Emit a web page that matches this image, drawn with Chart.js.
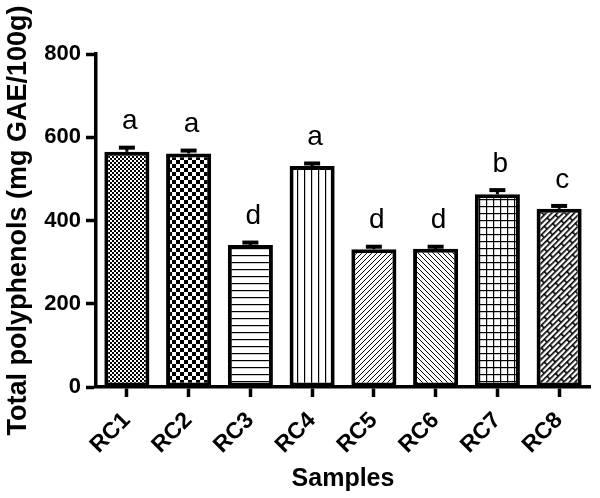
<!DOCTYPE html>
<html>
<head>
<meta charset="utf-8">
<script src="https://cdn.jsdelivr.net/npm/chart.js@4"></script>
<style>
  html, body { margin: 0; padding: 0; background: #fff; }
  canvas { display: block; }
</style>
</head>
<body>
<canvas id="barChart" width="600" height="498"></canvas>
<script>
// data
var categories = ["RC1", "RC2", "RC3", "RC4", "RC5", "RC6", "RC7", "RC8"];
var values = [565, 561, 341, 531, 331, 332, 463, 428];
var errors = [10, 7, 6, 6, 6, 5, 10, 7];
var letters = ["a", "a", "d", "a", "d", "d", "b", "c"];
var yTicks = [0, 200, 400, 600, 800];

var FONT = "'Liberation Sans', Arial, sans-serif";

// hatch patterns, one per bar
function makePattern(w, h, draw, angle) {
  var c = document.createElement("canvas");
  c.width = w;
  c.height = h;
  var g = c.getContext("2d");
  g.fillStyle = "#fff";
  g.fillRect(0, 0, w, h);
  g.fillStyle = "#000";
  g.strokeStyle = "#000";
  draw(g, w, h);
  var p = g.createPattern(c, "repeat");
  if (angle) p.setTransform(new DOMMatrix().rotate(angle));
  return p;
}

var patterns = [
  makePattern(4, 4, function (g) { g.fillRect(0, 0, 2, 2); g.fillRect(2, 2, 2, 2); }),
  makePattern(8, 8, function (g) { g.fillRect(0, 0, 4, 4); g.fillRect(4, 4, 4, 4); }),
  makePattern(7, 7, function (g) { g.fillRect(0, 3, 7, 1.2); }),
  makePattern(7, 7, function (g) { g.fillRect(3, 0, 1.2, 7); }),
  makePattern(5, 5, function (g, s) {
    g.lineWidth = 1;
    g.beginPath();
    g.moveTo(0, s); g.lineTo(s, 0);
    g.moveTo(-1, 1); g.lineTo(1, -1);
    g.moveTo(s - 1, s + 1); g.lineTo(s + 1, s - 1);
    g.stroke();
  }),
  makePattern(5, 5, function (g, s) {
    g.lineWidth = 1;
    g.beginPath();
    g.moveTo(0, 0); g.lineTo(s, s);
    g.moveTo(s - 1, -1); g.lineTo(s + 1, 1);
    g.moveTo(-1, s - 1); g.lineTo(1, s + 1);
    g.stroke();
  }),
  makePattern(7, 7, function (g) { g.fillRect(3, 0, 1.2, 7); g.fillRect(0, 3, 7, 1.2); }),
  // diagonal bricks
  makePattern(16, 8, function (g) {
    g.fillRect(0, 0, 16, 1.6);
    g.fillRect(0, 4, 16, 1.6);
    g.fillRect(0, 0, 1.6, 4);
    g.fillRect(8, 4, 1.6, 4);
  }, -45)
];

var errorBarsPlugin = {
  id: "errorBars",
  afterDatasetsDraw: function (chart) {
    var ctx = chart.ctx;
    var y = chart.scales.y;
    var meta = chart.getDatasetMeta(0);
    ctx.save();
    ctx.strokeStyle = "#000";
    ctx.fillStyle = "#000";
    meta.data.forEach(function (bar, i) {
      var yTop = y.getPixelForValue(values[i] + errors[i]);
      ctx.lineWidth = 3;
      ctx.beginPath();
      ctx.moveTo(bar.x, bar.y);
      ctx.lineTo(bar.x, yTop);
      ctx.stroke();
      ctx.lineWidth = 4;
      ctx.beginPath();
      ctx.moveTo(bar.x - 8, yTop);
      ctx.lineTo(bar.x + 8, yTop);
      ctx.stroke();
      ctx.font = "28px " + FONT;
      ctx.textAlign = "center";
      ctx.textBaseline = "bottom";
      ctx.fillText(letters[i], bar.x + 3, yTop - 12);
    });
    ctx.restore();
  }
};

var ctx = document.getElementById("barChart").getContext("2d");
var chart = new Chart(ctx, {
  type: "bar",
  data: {
    labels: categories,
    datasets: [
      {
        data: values,
        backgroundColor: patterns,
        borderColor: "#000",
        borderWidth: 4,
        borderSkipped: false,
        barPercentage: 0.73,
        categoryPercentage: 1
      }
    ]
  },
  options: {
    responsive: false,
    animation: false,
    layout: { padding: { top: 54, right: 10, left: 0, bottom: 0 } },
    plugins: {
      legend: { display: false },
      tooltip: { enabled: false }
    },
    scales: {
      x: {
        grid: {
          offset: false,
          drawOnChartArea: false,
          drawTicks: true,
          tickLength: 10,
          tickWidth: 3.5,
          tickColor: "#000"
        },
        border: { display: true, width: 3.5, color: "#000" },
        ticks: {
          color: "#000",
          font: { family: FONT, size: 23, weight: "bold" },
          minRotation: 45,
          maxRotation: 45,
          padding: 10
        },
        title: {
          display: true,
          text: "Samples",
          color: "#000",
          font: { family: FONT, size: 25, weight: "bold" },
          padding: { top: 0, bottom: 4 }
        },
        afterFit: function (s) { s.height = 111; }
      },
      y: {
        min: 0,
        max: 800,
        afterBuildTicks: function (s) {
          s.ticks = yTicks.map(function (v) { return { value: v }; });
        },
        grid: {
          drawOnChartArea: false,
          drawTicks: true,
          tickLength: 10,
          tickWidth: 3.5,
          tickColor: "#000"
        },
        border: { display: true, width: 3.5, color: "#000" },
        ticks: {
          color: "#000",
          font: { family: FONT, size: 22, weight: "bold" },
          padding: 5
        },
        title: {
          display: true,
          text: "Total polyphenols (mg GAE/100g)",
          color: "#000",
          font: { family: FONT, size: 27, weight: "bold" },
          padding: { top: 2, bottom: 0 }
        },
        afterFit: function (s) { s.width = 96; }
      }
    }
  },
  plugins: [errorBarsPlugin]
});
</script>
</body>
</html>
